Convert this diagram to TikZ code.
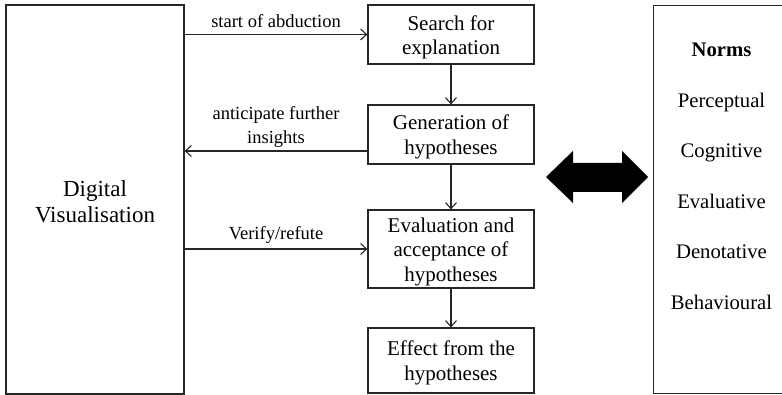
\documentclass[tikz,border=0pt]{standalone}
\usepackage{fontspec}
\setmainfont{Liberation Serif}
\usetikzlibrary{arrows.meta,positioning}
\newcommand\mytopstrut{\rule{0pt}{20pt}}
\tikzset{
  line/.style={draw=black!85, line width=1.2pt},
  box/.style={line, rectangle, inner sep=0pt, align=center, font=\fontsize{21}{24.5}\selectfont},
  arr/.style={line, -{Straight Barb[length=6pt,width=11pt,line width=1.1pt]}},
  lbl/.style={align=center, inner sep=0pt, font=\fontsize{18.5}{23.5}\selectfont},
  normtxt/.style={anchor=base, inner sep=0pt, font=\fontsize{20.7}{24}\selectfont}
}
\begin{document}
\begin{tikzpicture}[x=1pt,y=-1pt]
\useasboundingbox (0,0) rectangle (782,395);
\clip (0,0) rectangle (782,395);
% left box
\node[box, minimum width=178pt, minimum height=389pt, font=\fontsize{23}{26}\selectfont] (dv) at (95,199.5) {\mytopstrut Digital\\Visualisation};
% process boxes
\node[box, minimum width=166pt, minimum height=59pt] (search) at (451,34.5) {\mytopstrut Search for\\explanation};
\node[box, minimum width=166pt, minimum height=59pt] (gen) at (451,134.5) {\mytopstrut Generation of\\hypotheses};
\node[box, minimum width=166pt, minimum height=78pt] (eval) at (451,249) {\mytopstrut Evaluation and\\acceptance of\\hypotheses};
\node[box, minimum width=166pt, minimum height=65pt] (effect) at (451,360.5) {\mytopstrut Effect from the\\hypotheses};
% vertical arrows
\draw[arr] (search.south) -- (gen.north);
\draw[arr] (gen.south) -- (eval.north);
\draw[arr] (eval.south) -- (effect.north);
% horizontal arrows
\coordinate (a1) at (dv.east |- search.west);
\draw[arr] (a1) -- (search.west) node[lbl, midway, above=6pt] (l1) {start of abduction};
\coordinate (g1) at ([yshift=-16.5pt]gen.west);
\coordinate (g2) at (dv.east |- g1);
\draw[arr] (g1) -- (g2) node[lbl, midway, above=3pt] (l2) {anticipate further\\insights};
\coordinate (v1) at (dv.east |- eval.west);
\draw[arr] (v1) -- (eval.west) node[lbl, midway, above=4.5pt] (l3) {Verify/refute};
% right box
\node[line, rectangle, minimum width=150pt, minimum height=388pt, inner sep=0pt, anchor=north west] (norms) at (653,5) {};
\node[normtxt, font=\fontsize{20.7}{24}\selectfont\bfseries] (n0) at (721.5,57) {Norms};
\node[normtxt] (n1) at (721.5,107.5) {Perceptual};
\node[normtxt] (n2) at (721.5,158) {Cognitive};
\node[normtxt] (n3) at (721.5,208.5) {Evaluative};
\node[normtxt] (n4) at (721.5,259) {Denotative};
\node[normtxt] (n5) at (721.5,309.5) {Behavioural};
% double arrow
\fill[black] (546,177) -- (573,151) -- (573,163) -- (622,163) -- (622,151) -- (648,177)
  -- (622,203) -- (622,192) -- (573,192) -- (573,203) -- cycle;
\end{tikzpicture}
\end{document}
